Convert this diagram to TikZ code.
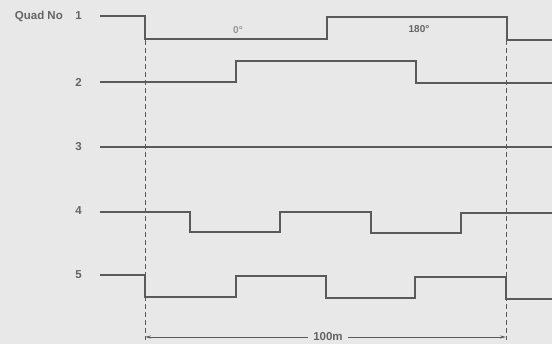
\documentclass[tikz,border=0pt]{standalone}
\usepackage{fontspec}
\setmainfont{Liberation Sans}
\usetikzlibrary{arrows.meta}
\definecolor{bg}{RGB}{232,232,232}
\definecolor{ink}{RGB}{90,90,90}
\definecolor{txt}{RGB}{100,100,100}
\definecolor{faint}{RGB}{150,150,150}
\tikzset{
  wave/.style={draw=ink, line width=2.6pt, line join=miter},
  guide/.style={draw=ink, line width=0.7pt, dash pattern=on 5pt off 3pt},
  lbl/.style={text=txt, font=\bfseries\fontsize{11.5}{12}\selectfont, inner sep=0pt},
  small/.style={font=\bfseries\fontsize{10}{11}\selectfont},
  dim/.style={draw=ink, line width=0.9pt},
}
\begin{document}
\begin{tikzpicture}[x=1pt,y=-1pt]
\fill[bg] (0,0) rectangle (552,344);
\useasboundingbox (0,0) rectangle (552,344);
% labels
\node[lbl, anchor=east] (q) at (63,16) {Quad No};
\node[lbl, anchor=east] (n1) at (82,16) {1};
\node[lbl, anchor=east] (n2) at (82,82) {2};
\node[lbl, anchor=east] (n3) at (82,147) {3};
\node[lbl, anchor=east] (n4) at (82,211) {4};
\node[lbl, anchor=east] (n5) at (82,275) {5};
% waveforms
\draw[wave] (100,16) -- (145,16) -- (145,39) -- (327,39) -- (327,17) -- (507,17) -- (507,40) -- (552,40);
\draw[wave] (100,82) -- (236,82) -- (236,61) -- (416,61) -- (416,83) -- (552,83);
\draw[wave] (100,147) -- (552,147);
\draw[wave] (100,212) -- (190,212) -- (190,232) -- (280,232) -- (280,212) -- (371,212) -- (371,233) -- (461,233) -- (461,213) -- (552,213);
\draw[wave] (100,275) -- (145,275) -- (145,297) -- (236,297) -- (236,276) -- (326,276) -- (326,298) -- (415,298) -- (415,277) -- (506,277) -- (506,299) -- (552,299);
% phase labels
\node[lbl, small, text=faint] (p0) at (238,30) {0°};
\node[lbl, small] (p180) at (419,29) {180°};
% guides
\coordinate (g1t) at (145,40);
\coordinate (g1b) at (145,340);
\coordinate (g2t) at (506,40);
\coordinate (g2b) at (506,340);
\draw[guide] (g1t) -- (g1b);
\draw[guide] (g2t) -- (g2b);
% dimension
\node[lbl, fill=bg, inner xsep=5pt, inner ysep=1pt] (dl) at (328,337) {100m};
\coordinate (da) at (145,337);
\coordinate (db) at (506,337);
\draw[dim, -{Stealth[length=6pt,width=3pt]}] (dl.west) -- (da);
\draw[dim, -{Stealth[length=6pt,width=3pt]}] (dl.east) -- (db);
\end{tikzpicture}
\end{document}
